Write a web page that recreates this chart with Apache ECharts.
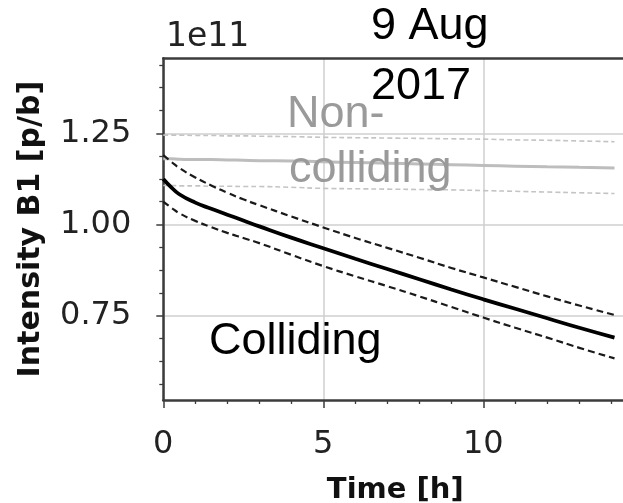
<!DOCTYPE html>
<html>
<head>
<meta charset="utf-8">
<script src="https://cdn.jsdelivr.net/npm/echarts@6/dist/echarts.min.js"></script>
<style>
  html, body { margin: 0; padding: 0; background: #fff; }
  #chart { width: 623px; height: 503px; }
</style>
</head>
<body>
<div id="chart"></div>
<script>
// Time since start of fill [h]
const timeH = [0, 0.25, 0.5, 1, 1.5, 2, 2.5, 3, 4, 5, 6, 7, 8, 9, 10, 11, 12, 13, 14.1];

// Beam 1 intensity per bunch, units of 1e11 p/b
const collidingMean  = [1.125, 1.102, 1.083, 1.060, 1.043, 1.027, 1.011, 0.995, 0.964, 0.935, 0.906, 0.878, 0.850, 0.822, 0.795, 0.769, 0.743, 0.717, 0.690];
const collidingHigh  = [1.190, 1.172, 1.155, 1.129, 1.107, 1.087, 1.069, 1.053, 1.022, 0.992, 0.963, 0.936, 0.909, 0.881, 0.855, 0.829, 0.803, 0.778, 0.752];
const collidingLow   = [1.063, 1.046, 1.031, 1.010, 0.993, 0.977, 0.963, 0.949, 0.917, 0.886, 0.858, 0.831, 0.803, 0.774, 0.745, 0.717, 0.690, 0.662, 0.633];
const nonCollMean    = [1.180, 1.180, 1.179, 1.178, 1.178, 1.177, 1.176, 1.175, 1.174, 1.172, 1.170, 1.168, 1.166, 1.164, 1.162, 1.160, 1.158, 1.157, 1.155];
const nonCollHigh    = [1.245, 1.245, 1.245, 1.244, 1.244, 1.243, 1.243, 1.242, 1.241, 1.239, 1.238, 1.237, 1.236, 1.235, 1.234, 1.232, 1.231, 1.229, 1.227];
const nonCollLow     = [1.107, 1.107, 1.106, 1.106, 1.105, 1.105, 1.104, 1.104, 1.102, 1.099, 1.098, 1.097, 1.096, 1.095, 1.093, 1.091, 1.089, 1.087, 1.085];

// Axis ticks
const xMajorTicks = [0, 5, 10];
const xMinorTicks = [1, 2, 3, 4, 6, 7, 8, 9, 11, 12, 13, 14];
const yMajorTicks = [0.75, 1.00, 1.25];
const yMinorTicks = [0.5625, 0.625, 0.6875, 0.8125, 0.875, 0.9375, 1.0625, 1.125, 1.1875, 1.3125, 1.375, 1.4375];

const X_MIN = 0, X_MAX = 14.5;
const Y_MIN = 0.519, Y_MAX = 1.4556;

const pairs = arr => timeH.map((t, i) => [t, arr[i]]);

const chart = echarts.init(document.getElementById('chart'), null, { renderer: 'canvas' });

const tickFont = { fontFamily: 'DejaVu Sans', fontSize: 32, color: '#222222' };
const spine = { color: '#3c3c3c', width: 2.5 };

const option = {
  backgroundColor: '#ffffff',
  animation: false,
  grid: { left: 163.3, top: 58.3, right: -4.3, bottom: 103, outerBoundsMode: 'none' },
  xAxis: [
    {
      type: 'value', min: X_MIN, max: X_MAX, position: 'bottom',
      name: 'Time [h]', nameLocation: 'middle', nameGap: 76,
      nameTextStyle: { fontFamily: 'DejaVu Sans', fontWeight: 'bold', fontSize: 29, color: '#111' },
      axisLine: { show: true, lineStyle: spine },
      axisTick: { show: true, customValues: xMajorTicks, length: 8, inside: false, lineStyle: { color: '#3c3c3c', width: 1.5 } },
      axisLabel: { customValues: xMajorTicks, margin: 29, formatter: v => String(v), ...tickFont },
      splitLine: { show: true, lineStyle: { color: '#cfcfcf', width: 1.5 } }
    },
    {
      type: 'value', min: X_MIN, max: X_MAX, position: 'bottom', gridIndex: 0,
      axisLine: { show: false },
      axisTick: { show: true, customValues: xMinorTicks, length: 4, lineStyle: { color: '#3c3c3c', width: 1.3 } },
      axisLabel: { show: false },
      splitLine: { show: false }
    },
    {
      type: 'value', min: X_MIN, max: X_MAX, position: 'top', gridIndex: 0,
      axisLine: { show: true, lineStyle: spine },
      axisTick: { show: false },
      axisLabel: { show: false },
      splitLine: { show: false }
    }
  ],
  yAxis: [
    {
      type: 'value', min: Y_MIN, max: Y_MAX, position: 'left',
      name: 'Intensity B1 [p/b]', nameLocation: 'middle', nameGap: 117, nameRotate: 90,
      nameTextStyle: { fontFamily: 'DejaVu Sans', fontWeight: 'bold', fontSize: 30, color: '#111' },
      axisLine: { show: true, lineStyle: spine },
      axisTick: { show: true, customValues: yMajorTicks, length: 7, lineStyle: { color: '#3c3c3c', width: 1.5 } },
      axisLabel: { customValues: yMajorTicks, margin: 32, formatter: v => v.toFixed(2), ...tickFont },
      splitLine: { show: true, lineStyle: { color: '#cfcfcf', width: 1.5 } }
    },
    {
      type: 'value', min: Y_MIN, max: Y_MAX, position: 'left', gridIndex: 0,
      axisLine: { show: false },
      axisTick: { show: true, customValues: yMinorTicks, length: 4, lineStyle: { color: '#3c3c3c', width: 1.3 } },
      axisLabel: { show: false },
      splitLine: { show: false }
    }
  ],
  series: [
    { name: 'Non-colliding +', type: 'line', data: pairs(nonCollHigh), symbol: 'none', smooth: true,
      lineStyle: { color: '#c4c4c4', width: 1.6, type: [5, 3] }, z: 2 },
    { name: 'Non-colliding -', type: 'line', data: pairs(nonCollLow), symbol: 'none', smooth: true,
      lineStyle: { color: '#c4c4c4', width: 1.6, type: [5, 3] }, z: 2 },
    { name: 'Non-colliding', type: 'line', data: pairs(nonCollMean), symbol: 'none', smooth: true,
      lineStyle: { color: '#bdbdbd', width: 3 }, z: 3 },
    { name: 'Colliding +', type: 'line', data: pairs(collidingHigh), symbol: 'none', smooth: true,
      lineStyle: { color: '#1a1a1a', width: 2.2, type: [7, 4] }, z: 4 },
    { name: 'Colliding -', type: 'line', data: pairs(collidingLow), symbol: 'none', smooth: true,
      lineStyle: { color: '#1a1a1a', width: 2.2, type: [7, 4] }, z: 4 },
    { name: 'Colliding', type: 'line', data: pairs(collidingMean), symbol: 'none', smooth: true,
      lineStyle: { color: '#000000', width: 3.8 }, z: 5 }
  ],
  graphic: [
    { type: 'text', left: 166, top: 21, z: 10,
      style: { text: '1e11', font: '33px "DejaVu Sans"', fill: '#222' } },
    { type: 'text', left: 371, top: 4, z: 10,
      style: { text: '9 Aug', font: '45px "Liberation Sans"', fill: '#000' } },
    { type: 'text', left: 371, top: 64, z: 10,
      style: { text: '2017', font: '45px "Liberation Sans"', fill: '#000' } },
    { type: 'text', left: 287, top: 92, z: 10,
      style: { text: 'Non-', font: '45px "Liberation Sans"', fill: '#9a9a9a' } },
    { type: 'text', left: 289, top: 147, z: 10,
      style: { text: 'colliding', font: '45px "Liberation Sans"', fill: '#9a9a9a' } },
    { type: 'text', left: 209, top: 319, z: 10,
      style: { text: 'Colliding', font: '45px "Liberation Sans"', fill: '#000' } }
  ]
};

chart.setOption(option);
</script>
</body>
</html>
